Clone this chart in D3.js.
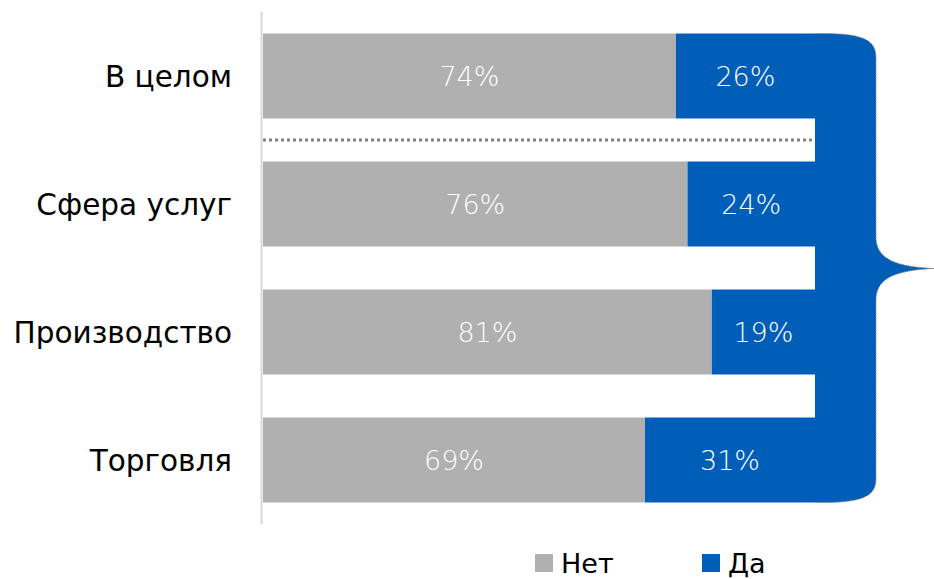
<!DOCTYPE html>
<html>
<head>
<meta charset="utf-8">
<script src="https://cdn.jsdelivr.net/npm/d3@7"></script>
<style>
  body { margin: 0; background: #fff; }
  svg { display: block; font-family: "DejaVu Sans", sans-serif; }
</style>
</head>
<body>
<div id="chart"></div>
<script>
// rows, top to bottom
let categories = ["В целом", "Сфера услуг", "Производство", "Торговля"]
// share of "Нет" as drawn (bar lengths), "Да" is the rest
let netValues = [74.8, 76.9, 81.3, 69.2]
let daValues = netValues.map(v => 100 - v)
// labels as printed on the bars
let netLabels = ["74%", "76%", "81%", "69%"]
let daLabels = ["26%", "24%", "19%", "31%"]
let seriesNames = ["Нет", "Да"]
let seriesColors = ["#b0b0b0", "#005eb8"]

let width = 934
let height = 579
let plotLeft = 263
let plotRight = 815
let plotTop = 12
let plotBottom = 524

let svg = d3.select("#chart").append("svg")
  .attr("width", width)
  .attr("height", height)

let x = d3.scaleLinear().domain([0, 100]).range([plotLeft, plotRight])
let y = d3.scaleBand().domain(categories).range([plotTop, plotBottom]).paddingInner(0.336).paddingOuter(0.168)

// brace on the right, drawn first so bars sit over its left edge
let bTop = y(categories[0])
let bBot = y(categories[categories.length - 1]) + y.bandwidth()
let bMid = (bTop + bBot) / 2 + 0.5
let bx = 876
let tip = 934
let braceOuter = `M${plotRight},${bTop} L${plotRight + 8},${bTop}
  C${bx - 10},${bTop} ${bx},${bTop + 8} ${bx},${bTop + 24}
  L${bx},${bMid - 32} C${bx},${bMid - 10} ${bx + 18},${bMid - 2} ${tip},${bMid}
  C${bx + 18},${bMid + 2} ${bx},${bMid + 10} ${bx},${bMid + 32}
  L${bx},${bBot - 24} C${bx},${bBot - 8} ${bx - 10},${bBot} ${plotRight + 8},${bBot}
  L${plotRight},${bBot}`
svg.append("path")
  .attr("d", braceOuter + " Z")
  .attr("fill", seriesColors[1])
svg.append("path")
  .attr("d", braceOuter)
  .attr("fill", "none")
  .attr("stroke", "#8a8a8a")
  .attr("stroke-width", 1)
  .attr("stroke-dasharray", "1.5,1")

// vertical axis line
svg.append("line")
  .attr("x1", 261.5).attr("x2", 261.5)
  .attr("y1", plotTop).attr("y2", plotBottom)
  .attr("stroke", "#d9d9d9")
  .attr("stroke-width", 2)

let rows = categories.map((c, i) => ({
  cat: c, net: netValues[i], da: daValues[i], netLabel: netLabels[i], daLabel: daLabels[i]
}))

let bars = svg.append("g").selectAll("g")
  .data(rows)
  .join("g")

bars.append("rect")
  .attr("x", x(0))
  .attr("y", d => y(d.cat))
  .attr("width", d => x(d.net) - x(0))
  .attr("height", y.bandwidth())
  .attr("fill", seriesColors[0])

bars.append("rect")
  .attr("x", d => x(d.net))
  .attr("y", d => y(d.cat))
  .attr("width", d => x(d.net + d.da) - x(d.net))
  .attr("height", y.bandwidth())
  .attr("fill", seriesColors[1])

bars.append("text")
  .attr("x", d => (x(0) + x(d.net)) / 2)
  .attr("y", d => y(d.cat) + y.bandwidth() / 2)
  .attr("dy", "0.36em")
  .attr("text-anchor", "middle")
  .attr("fill", "#fff")
  .style("font-size", "27px")
  .style("font-weight", 300)
  .text(d => d.netLabel)

bars.append("text")
  .attr("x", d => (x(d.net) + x(d.net + d.da)) / 2)
  .attr("y", d => y(d.cat) + y.bandwidth() / 2)
  .attr("dy", "0.36em")
  .attr("text-anchor", "middle")
  .attr("fill", "#fff")
  .style("font-size", "27px")
  .style("font-weight", 300)
  .text(d => d.daLabel)

// category labels
svg.append("g").selectAll("text")
  .data(categories)
  .join("text")
  .attr("x", 232)
  .attr("y", d => y(d) + y.bandwidth() / 2)
  .attr("dy", "0.36em")
  .attr("text-anchor", "end")
  .attr("fill", "#000")
  .style("font-size", "29.5px")
  .text(d => d)

// dotted separator between "В целом" and the rest
let sepY = Math.round((y(categories[0]) + y.bandwidth() + y(categories[1])) / 2)
svg.append("line")
  .attr("x1", plotLeft).attr("x2", 812)
  .attr("y1", sepY).attr("y2", sepY)
  .attr("stroke", "#808080")
  .attr("stroke-width", 3)
  .attr("stroke-dasharray", "3,3")

// legend
let legendX = [535, 702]
let legend = svg.append("g").selectAll("g")
  .data(seriesNames)
  .join("g")
  .attr("transform", (d, i) => `translate(${legendX[i]},554)`)

legend.append("rect")
  .attr("width", 18).attr("height", 18)
  .attr("fill", (d, i) => seriesColors[i])

legend.append("text")
  .attr("x", 26)
  .attr("y", 9)
  .attr("dy", "0.36em")
  .attr("fill", "#000")
  .style("font-size", "27px")
  .text(d => d)
</script>
</body>
</html>
